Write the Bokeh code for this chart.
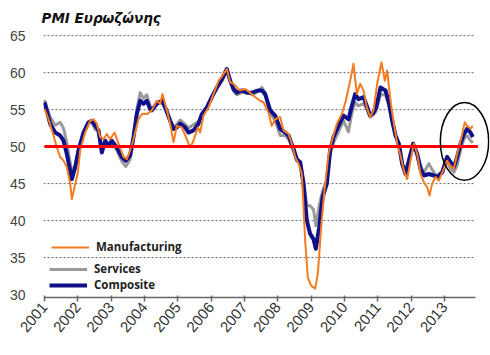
import math
from bokeh.plotting import figure
from bokeh.models import FixedTicker, Legend, LegendItem, Range1d
from bokeh.embed import file_html
from bokeh.resources import INLINE

title_text = "PMI Ευρωζώνης"
years = list(range(2001, 2014))
year_labels = [str(y) for y in years]
y_ticks = [30, 35, 40, 45, 50, 55, 60, 65]
threshold = 50

# Manufacturing PMI (decimal year, index)
mfg_t = [2001.00, 2001.12, 2001.27, 2001.37, 2001.47, 2001.57, 2001.67, 2001.77, 2001.82, 2001.90,
         2002.00, 2002.07, 2002.22, 2002.37, 2002.47, 2002.57, 2002.67, 2002.77, 2002.87, 2002.97,
         2003.10, 2003.22, 2003.37, 2003.47, 2003.57, 2003.67, 2003.82, 2003.92, 2004.07, 2004.22,
         2004.37, 2004.47, 2004.54, 2004.67, 2004.77, 2004.87, 2004.97, 2005.12, 2005.24, 2005.37,
         2005.47, 2005.60, 2005.67, 2005.77, 2005.92, 2006.07, 2006.22, 2006.34, 2006.47, 2006.57,
         2006.67, 2006.77, 2006.87, 2007.02, 2007.17, 2007.32, 2007.47, 2007.57, 2007.72, 2007.82,
         2007.92, 2008.07, 2008.17, 2008.32, 2008.42, 2008.52, 2008.62, 2008.72, 2008.82, 2008.90,
         2009.00, 2009.12, 2009.20, 2009.30, 2009.40, 2009.52, 2009.62, 2009.77, 2009.92, 2010.04,
         2010.17, 2010.27, 2010.37, 2010.47, 2010.57, 2010.67, 2010.77, 2010.87, 2010.98, 2011.11,
         2011.21, 2011.28, 2011.38, 2011.48, 2011.58, 2011.68, 2011.78, 2011.88, 2011.98, 2012.08,
         2012.18, 2012.28, 2012.38, 2012.48, 2012.55, 2012.63, 2012.73, 2012.83, 2012.93, 2013.08,
         2013.18, 2013.28, 2013.38, 2013.51, 2013.61, 2013.68, 2013.78, 2013.85]
mfg_v = [55.1, 53.7, 51.5, 49.9, 48.6, 48.1, 47.2, 45.0, 42.9, 44.5,
         46.5, 49.5, 51.9, 53.5, 53.7, 53.1, 51.3, 51.0, 51.7, 51.0,
         51.9, 50.4, 48.6, 48.3, 49.5, 51.0, 53.7, 54.4, 54.4, 54.9,
         56.2, 55.8, 57.1, 54.9, 53.1, 50.6, 52.8, 52.6, 51.3, 49.9,
         50.8, 52.6, 51.9, 54.2, 55.3, 57.1, 58.9, 59.6, 60.5, 58.7,
         58.5, 58.0, 57.6, 57.8, 57.3, 56.7, 56.2, 56.0, 54.6, 52.8,
         53.7, 54.0, 52.2, 51.7, 50.4, 48.6, 47.7, 46.3, 37.3, 32.3,
         31.2, 30.8, 32.8, 39.1, 44.1, 49.0, 50.8, 53.1, 54.4, 56.2,
         58.9, 61.2, 57.1, 58.5, 57.6, 55.3, 54.0, 54.9, 58.5, 61.4,
         58.9, 60.3, 56.2, 53.1, 50.4, 48.8, 46.8, 45.6, 48.1, 50.4,
         49.0, 46.3, 45.2, 44.5, 43.4, 45.0, 45.9, 45.4, 46.5, 48.1,
         47.4, 47.0, 49.0, 51.3, 53.3, 52.8, 52.4, 52.8]

# Services PMI
srv_t = [2001.00, 2001.17, 2001.32, 2001.47, 2001.57, 2001.67, 2001.82, 2001.92, 2002.02, 2002.17,
         2002.32, 2002.42, 2002.52, 2002.62, 2002.72, 2002.82, 2002.92, 2003.02, 2003.17, 2003.32,
         2003.44, 2003.57, 2003.67, 2003.77, 2003.87, 2003.97, 2004.07, 2004.17, 2004.22, 2004.37,
         2004.52, 2004.62, 2004.77, 2004.87, 2004.97, 2005.07, 2005.22, 2005.32, 2005.47, 2005.62,
         2005.72, 2005.87, 2006.02, 2006.17, 2006.32, 2006.47, 2006.57, 2006.67, 2006.77, 2006.92,
         2007.07, 2007.22, 2007.42, 2007.52, 2007.62, 2007.77, 2007.92, 2008.07, 2008.22, 2008.32,
         2008.47, 2008.57, 2008.67, 2008.77, 2008.87, 2008.97, 2009.07, 2009.14, 2009.24, 2009.34,
         2009.47, 2009.57, 2009.67, 2009.82, 2009.97, 2010.12, 2010.22, 2010.32, 2010.42, 2010.57,
         2010.67, 2010.77, 2010.87, 2010.95, 2011.08, 2011.23, 2011.33, 2011.43, 2011.53, 2011.63,
         2011.73, 2011.83, 2011.93, 2012.06, 2012.18, 2012.28, 2012.38, 2012.53, 2012.68, 2012.78,
         2012.93, 2013.08, 2013.18, 2013.28, 2013.38, 2013.48, 2013.58, 2013.68, 2013.78, 2013.85]
srv_v = [56.3, 54.0, 52.9, 53.3, 52.5, 50.5, 46.5, 47.5, 49.5, 51.9,
         53.3, 53.3, 52.3, 52.0, 49.5, 50.8, 50.0, 50.5, 49.5, 48.0,
         47.3, 48.3, 51.3, 55.0, 57.3, 56.5, 57.0, 55.5, 55.0, 56.0,
         56.0, 55.3, 53.5, 52.6, 53.0, 53.6, 53.0, 52.5, 53.0, 53.4,
         54.2, 55.3, 56.7, 57.8, 58.8, 60.3, 59.0, 57.5, 57.0, 57.3,
         57.5, 57.0, 57.5, 58.0, 57.3, 54.5, 53.5, 51.5, 51.5, 51.0,
         49.5, 48.0, 48.0, 45.5, 42.0, 42.0, 41.5, 39.3, 42.0, 44.0,
         45.5, 49.0, 50.5, 52.0, 53.5, 52.0, 54.5, 56.0, 55.5, 55.8,
         55.0, 54.0, 54.3, 54.8, 57.0, 57.0, 55.5, 53.5, 51.5, 50.0,
         47.5, 46.5, 48.0, 50.0, 49.0, 47.5, 46.5, 47.7, 46.5, 46.0,
         46.7, 48.0, 47.0, 46.5, 47.5, 49.5, 51.0, 51.5, 50.8, 50.5]

# Composite PMI
cmp_t = [2001.00, 2001.17, 2001.32, 2001.47, 2001.57, 2001.67, 2001.82, 2001.92, 2002.02, 2002.17,
         2002.32, 2002.42, 2002.52, 2002.62, 2002.72, 2002.82, 2002.92, 2003.02, 2003.17, 2003.32,
         2003.44, 2003.57, 2003.67, 2003.77, 2003.87, 2003.97, 2004.07, 2004.17, 2004.22, 2004.37,
         2004.52, 2004.62, 2004.77, 2004.87, 2004.97, 2005.07, 2005.22, 2005.32, 2005.47, 2005.62,
         2005.72, 2005.87, 2006.02, 2006.17, 2006.32, 2006.47, 2006.57, 2006.67, 2006.77, 2006.92,
         2007.07, 2007.22, 2007.42, 2007.52, 2007.62, 2007.77, 2007.92, 2008.07, 2008.22, 2008.32,
         2008.47, 2008.57, 2008.67, 2008.77, 2008.87, 2008.97, 2009.07, 2009.14, 2009.24, 2009.34,
         2009.47, 2009.57, 2009.67, 2009.82, 2009.97, 2010.12, 2010.22, 2010.32, 2010.42, 2010.57,
         2010.67, 2010.77, 2010.87, 2010.95, 2011.08, 2011.23, 2011.33, 2011.43, 2011.53, 2011.63,
         2011.73, 2011.83, 2011.93, 2012.06, 2012.18, 2012.28, 2012.38, 2012.53, 2012.68, 2012.78,
         2012.93, 2013.08, 2013.18, 2013.28, 2013.38, 2013.48, 2013.58, 2013.68, 2013.78, 2013.85]
cmp_v = [56.0, 53.1, 51.9, 51.5, 50.8, 49.0, 45.6, 47.2, 49.5, 51.9,
         53.3, 53.5, 52.8, 52.2, 49.2, 50.8, 50.1, 50.8, 49.9, 48.6,
         48.1, 48.8, 51.3, 54.4, 56.2, 55.8, 56.2, 55.1, 54.9, 55.8,
         56.2, 55.3, 53.5, 52.4, 52.6, 53.1, 52.6, 51.9, 52.2, 53.1,
         54.4, 55.3, 56.7, 58.0, 59.1, 60.5, 58.9, 57.8, 57.3, 57.6,
         57.3, 57.3, 57.6, 57.6, 57.1, 54.9, 54.2, 52.4, 51.9, 51.5,
         49.7, 48.3, 47.9, 45.0, 40.0, 38.2, 37.5, 36.2, 39.1, 43.1,
         45.0, 49.5, 51.3, 52.8, 54.2, 53.7, 55.5, 57.1, 56.4, 56.7,
         55.5, 54.2, 54.6, 55.3, 58.0, 57.6, 56.0, 53.5, 51.5, 50.4,
         47.7, 46.3, 48.1, 50.4, 49.0, 47.0, 46.1, 46.3, 46.1, 45.9,
         46.5, 48.6, 47.9, 47.2, 48.6, 50.4, 51.7, 52.4, 51.9, 51.3]

# highlighted recent recovery (ellipse centre / size in data units)
hl_x, hl_y, hl_w, hl_h = 2013.6, 50.7, 1.45, 10.5
axis_end = 2013.93

p = figure(width=490, height=355, output_backend="svg", toolbar_location=None,
           x_range=Range1d(2000.97, 2014.35), y_range=Range1d(29.6, 65.7),
           min_border_left=43, min_border_right=1, min_border_top=30, min_border_bottom=58,
           title=title_text)
p.outline_line_color = None
p.background_fill_color = "white"
p.border_fill_color = "white"
p.xgrid.visible = False
p.ygrid.visible = False

p.title.text_font = "DejaVu Sans"
p.title.text_font_style = "bold italic"
p.title.text_font_size = "13.5px"
p.title.text_color = "#111111"
p.title.offset = -2
p.title.standoff = 9

# dashed horizontal grid lines at y ticks (except the axis baseline)
grid_vals = y_ticks[1:]
p.segment(x0=[p.x_range.start] * len(grid_vals), x1=[axis_end] * len(grid_vals),
          y0=grid_vals, y1=grid_vals, line_color="#666666", line_width=1, line_dash="2 2")

r_s = p.line(srv_t, srv_v, line_color="#9A9A9A", line_width=3, line_join="round")
r_c = p.line(cmp_t, cmp_v, line_color="#10108A", line_width=4, line_join="round")
r_m = p.line(mfg_t, mfg_v, line_color="#F47B20", line_width=2, line_join="round")

p.line([years[0], years[-1] + 1], [threshold, threshold], line_color="#FF0000", line_width=3)

p.ellipse(x=[hl_x], y=[hl_y], width=[hl_w], height=[hl_h], fill_color=None,
          line_color="black", line_width=1.5)

xa = p.xaxis[0]
xa.ticker = FixedTicker(ticks=years)
xa.major_label_overrides = {y: l for y, l in zip(years, year_labels)}
xa.bounds = (years[0], axis_end)
xa.major_label_orientation = math.radians(50)
xa.major_label_text_font = "Liberation Sans"
xa.major_label_text_font_size = "15px"
xa.major_label_text_color = "#333333"
xa.axis_line_color = "#666666"
xa.axis_line_width = 1.5
xa.major_tick_line_color = "#666666"
xa.major_tick_line_width = 1.5
xa.major_tick_in = 2
xa.major_tick_out = 4
xa.minor_tick_line_color = None
xa.major_label_standoff = 3

ya = p.yaxis[0]
ya.ticker = FixedTicker(ticks=y_ticks)
ya.axis_line_color = None
ya.major_tick_line_color = None
ya.minor_tick_line_color = None
ya.major_label_text_font = "Liberation Sans"
ya.major_label_text_font_size = "14px"
ya.major_label_text_color = "#444444"
ya.major_label_standoff = 12

legend_style = dict(background_fill_alpha=0, border_line_color=None, padding=0, margin=0,
                    glyph_width=38, glyph_height=12, label_height=14, label_standoff=7,
                    spacing=1, label_text_font="Open Sans", label_text_font_style="bold",
                    label_text_font_size="11.5px", label_text_color="#222222")
leg1 = Legend(items=[LegendItem(label="Manufacturing", renderers=[r_m])], location=(8, 43), **legend_style)
leg2 = Legend(items=[LegendItem(label="Services", renderers=[r_s]),
                     LegendItem(label="Composite", renderers=[r_c])], location=(6, 5), **legend_style)
p.add_layout(leg1)
p.add_layout(leg2)

open("out.html", "w").write(file_html(p, INLINE))
